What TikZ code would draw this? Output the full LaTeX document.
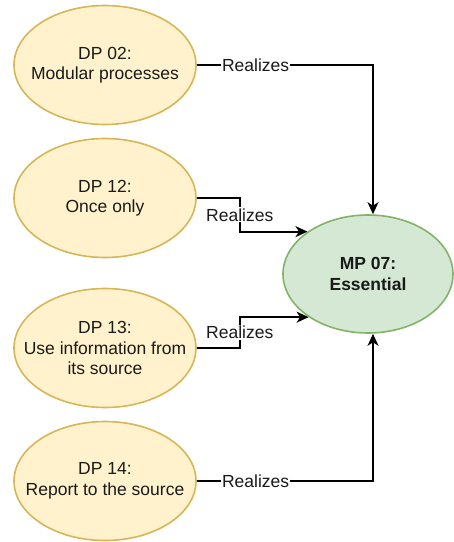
\documentclass[tikz,border=0pt]{standalone}
\usepackage{fontspec}
\setmainfont{Liberation Sans}
\usetikzlibrary{shapes.geometric,arrows.meta}
\definecolor{yfill}{HTML}{FFF2CC}
\definecolor{ydraw}{HTML}{D6B656}
\definecolor{gfill}{HTML}{D5E8D4}
\definecolor{gdraw}{HTML}{82B366}
\definecolor{txt}{HTML}{1A1A1A}
\begin{document}
\begin{tikzpicture}[x=1pt,y=-1pt, font=\fontsize{17.5}{20.5}\selectfont,
 dp/.style={ellipse, draw=ydraw, fill=yfill, line width=1.6pt, minimum width=182pt, minimum height=119pt, inner sep=0pt},
 mp/.style={ellipse, draw=gdraw, fill=gfill, line width=1.6pt, minimum width=170pt, minimum height=118pt, inner sep=0pt},
 txtnode/.style={align=center, inner sep=0pt, text=txt},
 conn/.style={line width=1.8pt, -{Stealth[length=12pt,width=11pt,inset=3.5pt]}},
 lbl/.style={fill=white, inner sep=1pt, text=txt}]
\useasboundingbox (0,0) rectangle (454,542);
\node[dp] (d02) at (105,65) {};
\node[dp] (d12) at (105,198) {};
\node[dp] (d13) at (105,348) {};
\node[dp] (d14) at (105,481) {};
\node[mp] (m07) at (368,274) {};
\node[txtnode] (t02) at (d02) {DP 02:\\Modular processes};
\node[txtnode] (t12) at (d12) {DP 12:\\Once only};
\node[txtnode] (t13) at (d13) {DP 13:\\Use information from\\its source};
\node[txtnode] (t14) at (d14) {DP 14:\\Report to the source};
\node[txtnode, font=\fontsize{17.5}{20.5}\selectfont\bfseries] (t07) at (m07) {MP 07:\\Essential};
\coordinate (mt) at ([xshift=5pt]m07.north);
\coordinate (mb) at ([xshift=5pt]m07.south);
\draw[conn] (d02.east) -| node[lbl, pos=0.167] {Realizes} (mt);
\draw[conn] (d12.east) -- ++(43,0) |- node[lbl, pos=0.25] {Realizes} (m07.145);
\draw[conn] (d13.east) -- ++(43,0) |- node[lbl, pos=0.25] {Realizes} (m07.216);
\draw[conn] (d14.east) -| node[lbl, pos=0.167] {Realizes} (mb);
\end{tikzpicture}
\end{document}
